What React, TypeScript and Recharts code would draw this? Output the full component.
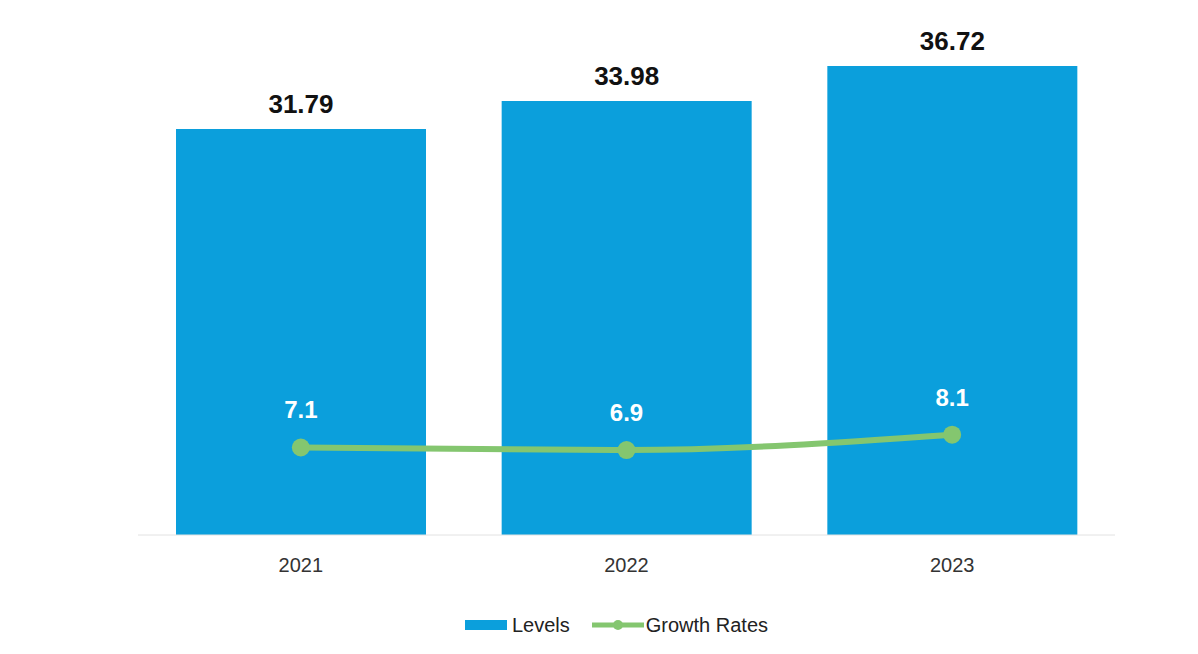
import React from 'react';
import {
  ComposedChart,
  Bar,
  Line,
  XAxis,
  YAxis,
  Legend,
  LabelList,
} from 'recharts';

const years = ['2021', '2022', '2023'];
const levels = [31.79, 33.98, 36.72];
const growthRates = [7.1, 6.9, 8.1];

const BLUE = '#0b9fdc';
const GREEN = '#84c66f';

const data = years.map((year, i) => ({
  year,
  levels: levels[i],
  growth: growthRates[i],
}));

function ChartLegend() {
  const text = { fontSize: 20, color: '#222', fontFamily: 'Liberation Sans, Arial, sans-serif' };
  return (
    <div
      style={{
        display: 'flex',
        justifyContent: 'center',
        alignItems: 'center',
        height: 30,
        marginRight: 20,
      }}
    >
      <div style={{ width: 42, height: 10, background: BLUE, marginRight: 5 }} />
      <span style={text}>Levels</span>
      <svg width={52} height={14} style={{ marginLeft: 22, marginRight: 2 }}>
        <line x1={0} y1={7} x2={52} y2={7} stroke={GREEN} strokeWidth={5} />
        <circle cx={26} cy={7} r={5} fill={GREEN} />
      </svg>
      <span style={text}>Growth Rates</span>
    </div>
  );
}

export default function App() {
  return (
    <div style={{ position: 'absolute', left: 0, top: 0, background: '#fff' }}>
      <ComposedChart
        width={1198}
        height={654}
        data={data}
        margin={{ top: 24, right: 83, left: 138, bottom: 39 }}
        barCategoryGap={0}
        style={{ fontFamily: 'Liberation Sans, Arial, sans-serif' }}
      >
        <XAxis
          dataKey="year"
          height={50}
          axisLine={{ stroke: '#e2e2e2' }}
          tickLine={false}
          tickSize={0}
          tickMargin={23}
          tick={{ fill: '#333', fontSize: 20 }}
        />
        <YAxis yAxisId="left" hide domain={[0, 40]} />
        {/* secondary axis for growth rates, sits slightly lower than the levels scale */}
        <YAxis yAxisId="right" orientation="right" hide domain={[0.25, 40.25]} allowDataOverflow />
        <Legend
          verticalAlign="bottom"
          content={<ChartLegend />}
          wrapperStyle={{ bottom: 14 }}
        />
        <Bar
          yAxisId="left"
          dataKey="levels"
          name="Levels"
          fill={BLUE}
          barSize={250}
          isAnimationActive={false}
        >
          <LabelList
            dataKey="levels"
            position="top"
            offset={16}
            fill="#111"
            fontSize={26}
            fontWeight="bold"
          />
        </Bar>
        <Line
          yAxisId="right"
          dataKey="growth"
          name="Growth Rates"
          type="monotone"
          stroke={GREEN}
          strokeWidth={6}
          dot={{ r: 9, fill: GREEN, stroke: GREEN, strokeWidth: 0 }}
          activeDot={false}
          isAnimationActive={false}
        >
          <LabelList
            dataKey="growth"
            position="top"
            offset={29}
            fill="#fff"
            fontSize={24}
            fontWeight="bold"
          />
        </Line>
      </ComposedChart>
    </div>
  );
}
